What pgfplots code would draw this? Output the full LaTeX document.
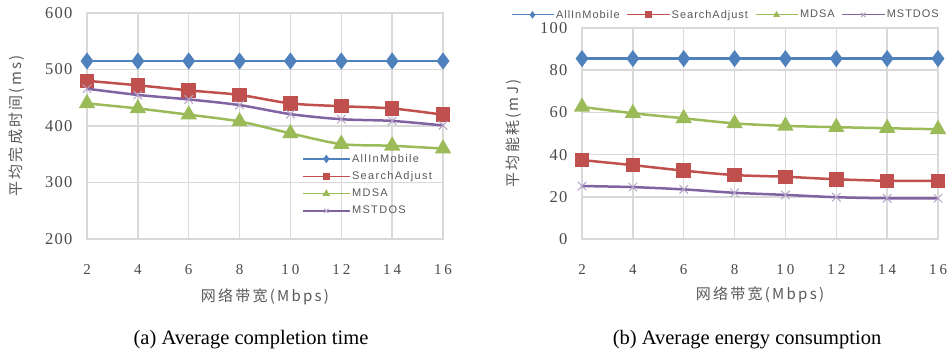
\documentclass[border=0pt]{standalone}
\usepackage{pgfplots}
\pgfplotsset{compat=1.18}
\usepackage{fontspec}
\setmainfont{Liberation Serif}
\newfontfamily\cjk[LetterSpace=15]{Noto Sans CJK SC}
\newfontfamily\legfont[LetterSpace=12]{Liberation Sans}
\newfontfamily\rlegfont[LetterSpace=9]{Liberation Sans}
\newfontfamily\tickfont[LetterSpace=8]{Liberation Serif}
\newfontfamily\xtickfont[LetterSpace=20]{Liberation Serif}
\definecolor{cblue}{HTML}{4F81BD}
\definecolor{cred}{HTML}{C0504D}
\definecolor{cgreen}{HTML}{9BBB59}
\definecolor{cpurple}{HTML}{8064A2}
\definecolor{cpurplel}{HTML}{B3A2C7}
\definecolor{gridc}{HTML}{D9D9D9}
\definecolor{txt}{HTML}{595959}
\definecolor{ticktxt}{HTML}{4A4A4A}
\pgfplotsset{
  mystyle/.style={
    scale only axis, width=356pt,
    xmin=2, xmax=16, xtick={2,4,...,16},
    xticklabels={2,4,6,8,1\hspace{3pt}0,1\hspace{3pt}2,1\hspace{3pt}4,1\hspace{3pt}6},
    grid=major, major grid style={gridc, line width=1.5pt},
    axis line style={gridc, line width=1.5pt},
    major tick length=0pt,
    yticklabel style={font=\fontsize{16.5}{16.5}\selectfont\tickfont, text=ticktxt, xshift=-11pt},
    xticklabel style={font=\fontsize{15}{15}\selectfont\xtickfont, text=ticktxt, yshift=-22pt},
    /pgf/number format/assume math mode=true,
    label style={font=\fontsize{15}{15}\selectfont\cjk, text=txt},
    clip=false,
    legend cell align=left,
    legend image code/.code={\draw[mark repeat=2,mark phase=2,##1,line width=1.5pt,mark size=3pt] plot coordinates {(0pt,0pt) (23pt,0pt) (46pt,0pt)};},
  },
  s1/.style={cblue, line width=2.5pt, smooth, mark=diamond*, mark size=6.5pt, mark options={solid}},
  s2/.style={cred, line width=2.5pt, smooth, mark=square*, mark size=6pt},
  s3/.style={cgreen, line width=2.5pt, smooth, mark=triangle*, mark size=7pt},
  s4/.style={cpurple, line width=2.5pt, smooth, mark=x, mark size=6pt, mark options={cpurplel, line width=1pt}},
}
\begin{document}
\begin{tikzpicture}[x=1pt,y=1pt]
\useasboundingbox (0,0) rectangle (952,353);
% (a)
\begin{axis}[mystyle, at={(87pt,114pt)}, anchor=south west, height=226pt,
  ymin=200, ymax=600, ytick={200,300,...,600},
  xlabel={网络带宽(Mbps)}, ylabel={平均完成时间(ms)},
  xlabel style={at={(axis description cs:0.5,-0.257)}, anchor=center},
  ylabel style={at={(axis description cs:-0.197,0.5)}, anchor=center, rotate=0},
  legend style={at={(axis description cs:0.605,0.385)}, anchor=north west, draw=none, fill=none,
    font=\fontsize{11}{11}\selectfont\legfont, text=txt, row sep=4pt, inner sep=0pt},
]
\addplot[s1] coordinates {(2,515)(4,515)(6,515)(8,515)(10,515)(12,515)(14,515)(16,515)};
\addplot[s2] coordinates {(2,480)(4,472)(6,463)(8,455)(10,440)(12,435)(14,431)(16,420)};
\addplot[s3] coordinates {(2,440)(4,431)(6,420)(8,408)(10,387)(12,368)(14,365)(16,360)};
\addplot[s4] coordinates {(2,466)(4,455)(6,447)(8,437)(10,421)(12,412)(14,409)(16,401)};
\legend{AllInMobile,SearchAdjust,MDSA,MSTDOS}
\end{axis}
% (b)
\begin{axis}[mystyle, at={(582pt,114pt)}, anchor=south west, height=211pt,
  ymin=0, ymax=100, ytick={0,20,...,100},
  xlabel={网络带宽(Mbps)}, ylabel={平均能耗(mJ)},
  xlabel style={at={(axis description cs:0.5,-0.265)}, anchor=center},
  ylabel style={at={(axis description cs:-0.191,0.5)}, anchor=center},
  legend columns=4,
  legend image code/.code={\draw[mark repeat=2,mark phase=2,#1,line width=1pt,mark size=3pt] plot coordinates {(0pt,0pt) (21pt,0pt) (42pt,0pt)};},
  legend style={at={(axis description cs:-0.2,1.095)}, anchor=north west, draw=none, fill=none,
    font=\fontsize{11}{11}\selectfont\rlegfont, text=txt, inner sep=0pt,
    /tikz/every even column/.append style={column sep=5pt}},
]
\addplot[s1] coordinates {(2,85.5)(4,85.5)(6,85.5)(8,85.5)(10,85.5)(12,85.5)(14,85.5)(16,85.5)};
\addplot[s2] coordinates {(2,37.4)(4,35)(6,32.4)(8,30.3)(10,29.5)(12,28.3)(14,27.6)(16,27.6)};
\addplot[s3] coordinates {(2,62.6)(4,59.6)(6,57.2)(8,54.8)(10,53.6)(12,53)(14,52.5)(16,52)};
\addplot[s4] coordinates {(2,25.1)(4,24.6)(6,23.5)(8,21.9)(10,20.9)(12,19.8)(14,19.3)(16,19.3)};
\legend{AllInMobile,SearchAdjust,MDSA,MSTDOS}
\end{axis}
\node[font=\fontsize{20.5}{20.5}\selectfont] at (251,13) {(a) Average completion time};
\node[font=\fontsize{20.5}{20.5}\selectfont] at (747,13) {(b) Average energy consumption};
\end{tikzpicture}
\end{document}
